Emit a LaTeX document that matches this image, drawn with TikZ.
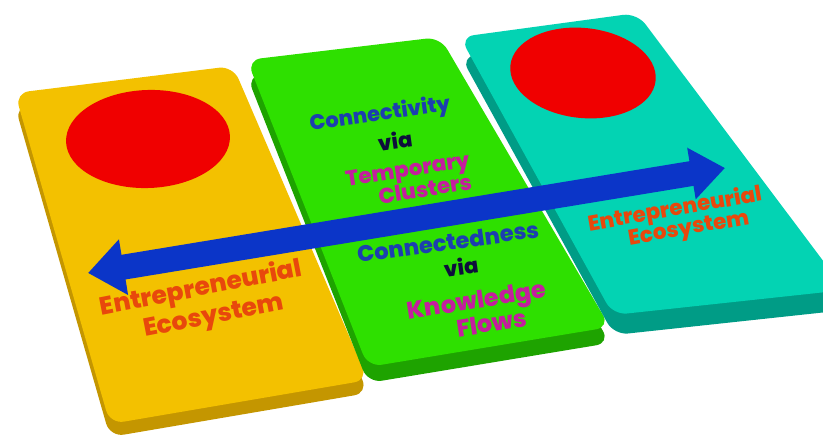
\documentclass[tikz,border=0pt]{standalone}
\usepackage{fontspec}
\setmainfont{Poppins}
\newfontfamily\slabfont{Poppins ExtraBold}
\usetikzlibrary{arrows.meta}

\definecolor{slabyellow}{HTML}{F3C100}
\definecolor{slabyellowside}{HTML}{C49600}
\definecolor{slabgreen}{HTML}{2EE000}
\definecolor{slabgreenside}{HTML}{1EA300}
\definecolor{slabteal}{HTML}{03D3B3}
\definecolor{slabtealside}{HTML}{009C86}
\definecolor{dotred}{HTML}{F00000}
\definecolor{arrowblue}{HTML}{0B35C8}
\definecolor{ecoorange}{HTML}{E8480C}
\definecolor{linkblue}{HTML}{1C3FB0}
\definecolor{vianavy}{HTML}{0E0E3C}
\definecolor{flowpink}{HTML}{C41E9E}

% one slab: top colour, side colour, side shift, then the four corners of the top face
\newcommand{\slab}[7]{%
  \begin{scope}[shift={#3}]
    \fill[#2, rounded corners=14pt] #4 -- #5 -- #6 -- #7 -- cycle;
  \end{scope}
  \fill[#1, rounded corners=14pt] #4 -- #5 -- #6 -- #7 -- cycle;
}

\begin{document}
\begin{tikzpicture}[
    x=1pt, y=-1pt,
    slabtext/.style={font=\slabfont\fontsize{#1}{#1}\selectfont, inner sep=0pt},
    bigarrow/.style={line width=25pt, arrowblue,
      {Triangle[width=54pt,length=36pt]}-{Triangle[width=50pt,length=34pt]}}
  ]
  \useasboundingbox (0,0) rectangle (823,441);

  % the three slabs
  \slab{slabyellow}{slabyellowside}{(0,13)}{(15,93)}{(233,66)}{(368,380)}{(110,424)}
  \slab{slabgreen}{slabgreenside}{(0,16)}{(247,60)}{(440,37)}{(610,327)}{(368,367)}
  \slab{slabteal}{slabtealside}{(1,20)}{(460,37)}{(637,13)}{(845,290)}{(613,315)}

  % red dots
  \fill[dotred] (148,139) ellipse [x radius=82, y radius=49, rotate=2];
  \fill[dotred] (583,73) ellipse [x radius=73, y radius=45, rotate=-6];

  % double arrow
  \coordinate (westtip) at (88,273);
  \coordinate (easttip) at (725,168);
  \draw[bigarrow] (westtip) -- (easttip);

  % texts on the yellow slab
  \node[slabtext=25, text=ecoorange, rotate=11] (ecoLa) at (201,289) {Entrepreneurial};
  \node[slabtext=25, text=ecoorange, rotate=11] (ecoLb) at (214,318) {Ecosystem};
  % texts on the teal slab
  \node[slabtext=21.5, text=ecoorange, rotate=10] (ecoRa) at (675,210) {Entrepreneurial};
  \node[slabtext=21.5, text=ecoorange, rotate=10] (ecoRb) at (689,230) {Ecosystem};
  % texts on the green slab
  \node[slabtext=21, text=linkblue, rotate=8] (connA) at (380,115) {Connectivity};
  \node[slabtext=21, text=vianavy, rotate=8] (viaA) at (395,141) {via};
  \node[slabtext=21.5, text=flowpink, rotate=9] (tempA) at (408,172) {Temporary};
  \node[slabtext=21.5, text=flowpink, rotate=9] (tempB) at (425,189) {Clusters};
  \node[slabtext=22.5, text=linkblue, rotate=8] (connB) at (448,242) {Connectedness};
  \node[slabtext=21, text=vianavy, rotate=8] (viaB) at (461,267) {via};
  \node[slabtext=24, text=flowpink, rotate=9] (flowA) at (477,303) {Knowledge};
  \node[slabtext=24, text=flowpink, rotate=9] (flowB) at (492,323) {Flows};
\end{tikzpicture}
\end{document}
